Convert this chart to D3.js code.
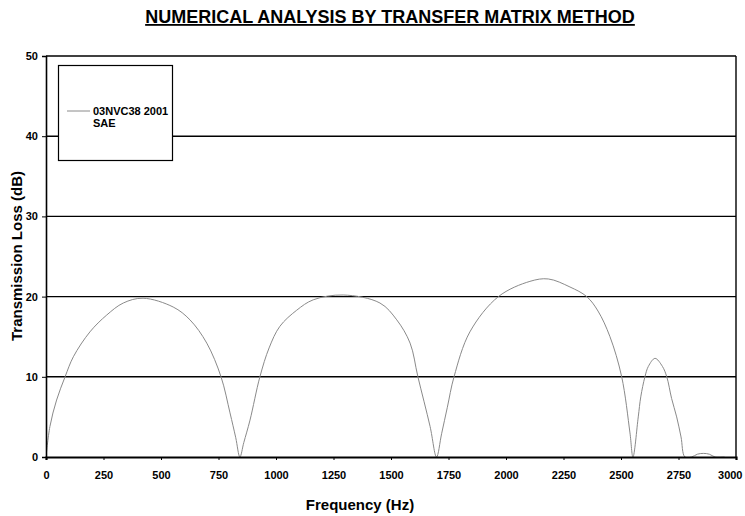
<!DOCTYPE html>
<html>
<head>
<meta charset="utf-8">
<script src="https://cdn.jsdelivr.net/npm/d3@7"></script>
<style>
  html, body { margin: 0; padding: 0; background: #fff; }
  svg { display: block; font-family: "Liberation Sans", Arial, sans-serif; }
  .tick text { font-weight: bold; font-size: 11px; fill: #000; }
</style>
</head>
<body>
<div id="chart"></div>
<script>
// ===== 数据 =====
const freqHz = [0, 17, 46, 83, 119, 191, 264, 336, 422, 553, 626, 699, 761, 800, 825, 843,
  860, 887, 930, 970, 1017, 1090, 1162, 1292, 1452, 1525, 1583, 1617, 1670, 1698,
  1720, 1745, 1774, 1843, 1967, 2104, 2184, 2278, 2351, 2400, 2452, 2503, 2539, 2552,
  2575, 2586, 2604, 2619, 2648, 2680, 2699, 2720, 2742, 2761, 2778,
  2807, 2832, 2858, 2884, 2909, 2950];
const tlDb = [0, 3.8, 7.1, 10, 12.5, 15.6, 17.7, 19.2, 19.8, 18.7, 17.1, 14.2, 10, 5.5, 2.4, 0,
  1.8, 4.6, 10, 13.6, 16.3, 18.3, 19.6, 20.2, 19.2, 17.1, 14.2, 10, 3.8, 0,
  2.9, 6.2, 10, 15.6, 20, 21.9, 22.2, 21.2, 20, 18.2, 15.0, 10, 3.0, 0,
  5.0, 7.5, 10, 11.3, 12.3, 11.3, 10, 7.3, 5.0, 2.5, 0,
  0, 0.35, 0.45, 0.35, 0, 0];
const xTicks = [0, 250, 500, 750, 1000, 1250, 1500, 1750, 2000, 2250, 2500, 2750, 3000];
const yTicks = [0, 10, 20, 30, 40, 50];
const seriesName = ["03NVC38 2001", "SAE"];

const W = 745, H = 516;
const L = 46, R = 736, T = 56, B = 457;

const svg = d3.select("#chart").append("svg").attr("width", W).attr("height", H);

const x = d3.scaleLinear().domain([0, 3000]).range([L, R]);
const y = d3.scaleLinear().domain([0, 50]).range([B, T]);

svg.append("clipPath").attr("id", "plot-clip")
  .append("rect").attr("x", L).attr("y", T - 2).attr("width", R - L).attr("height", B - T + 2);

// 网格线
svg.append("g")
  .selectAll("line")
  .data(yTicks.filter(d => d > 0))
  .join("line")
  .attr("x1", L).attr("x2", R)
  .attr("y1", d => y(d)).attr("y2", d => y(d))
  .attr("stroke", "#000").attr("stroke-width", 1.4);

// 右边框
svg.append("line")
  .attr("x1", R).attr("x2", R).attr("y1", T).attr("y2", B)
  .attr("stroke", "#000").attr("stroke-width", 1.4);

// 曲线
const line = d3.line()
  .x((d, i) => x(freqHz[i]))
  .y(d => y(d))
  .curve(d3.curveCatmullRom.alpha(0.5));

svg.append("path")
  .datum(tlDb)
  .attr("clip-path", "url(#plot-clip)")
  .attr("fill", "none")
  .attr("stroke", "#8a8a8a")
  .attr("stroke-width", 1)
  .attr("d", line);

// 坐标轴
const xAxis = svg.append("g")
  .attr("transform", `translate(0,${B})`)
  .call(d3.axisBottom(x).tickValues(xTicks).tickFormat(d3.format("d")).tickSize(3).tickPadding(11));
xAxis.select(".domain").attr("stroke-width", 2.2);
// 最后一个刻度标签向左收（与原图一致，不超出画布）
xAxis.selectAll(".tick text").filter(d => d === 3000).attr("text-anchor", "end").attr("dx", 6);

const yAxis = svg.append("g")
  .attr("transform", `translate(${L},0)`)
  .call(d3.axisLeft(y).tickValues(yTicks).tickFormat(d3.format("d")).tickSize(4).tickPadding(4));
yAxis.select(".domain").attr("stroke-width", 1.6);

// 图例
const lg = svg.append("g");
lg.append("rect")
  .attr("x", 58.5).attr("y", 65.5).attr("width", 114).attr("height", 95)
  .attr("fill", "#fff").attr("stroke", "#000").attr("stroke-width", 1.2);
lg.append("line")
  .attr("x1", 67).attr("x2", 90).attr("y1", 111).attr("y2", 111)
  .attr("stroke", "#8a8a8a").attr("stroke-width", 1);
lg.selectAll("text")
  .data(seriesName)
  .join("text")
  .attr("x", 93).attr("y", (d, i) => 115 + i * 12)
  .attr("font-size", 11).attr("font-weight", "bold")
  .text(d => d);

// 标题
svg.append("text")
  .attr("x", 390).attr("y", 23)
  .attr("text-anchor", "middle")
  .attr("font-size", 18).attr("font-weight", "bold")
  .attr("text-decoration", "underline")
  .text("NUMERICAL ANALYSIS BY TRANSFER MATRIX METHOD");

svg.append("text")
  .attr("x", 360).attr("y", 510)
  .attr("text-anchor", "middle")
  .attr("font-size", 15).attr("font-weight", "bold")
  .text("Frequency (Hz)");

svg.append("text")
  .attr("transform", `translate(22,256) rotate(-90)`)
  .attr("text-anchor", "middle")
  .attr("font-size", 15).attr("font-weight", "bold")
  .text("Transmission Loss (dB)");
</script>
</body>
</html>
